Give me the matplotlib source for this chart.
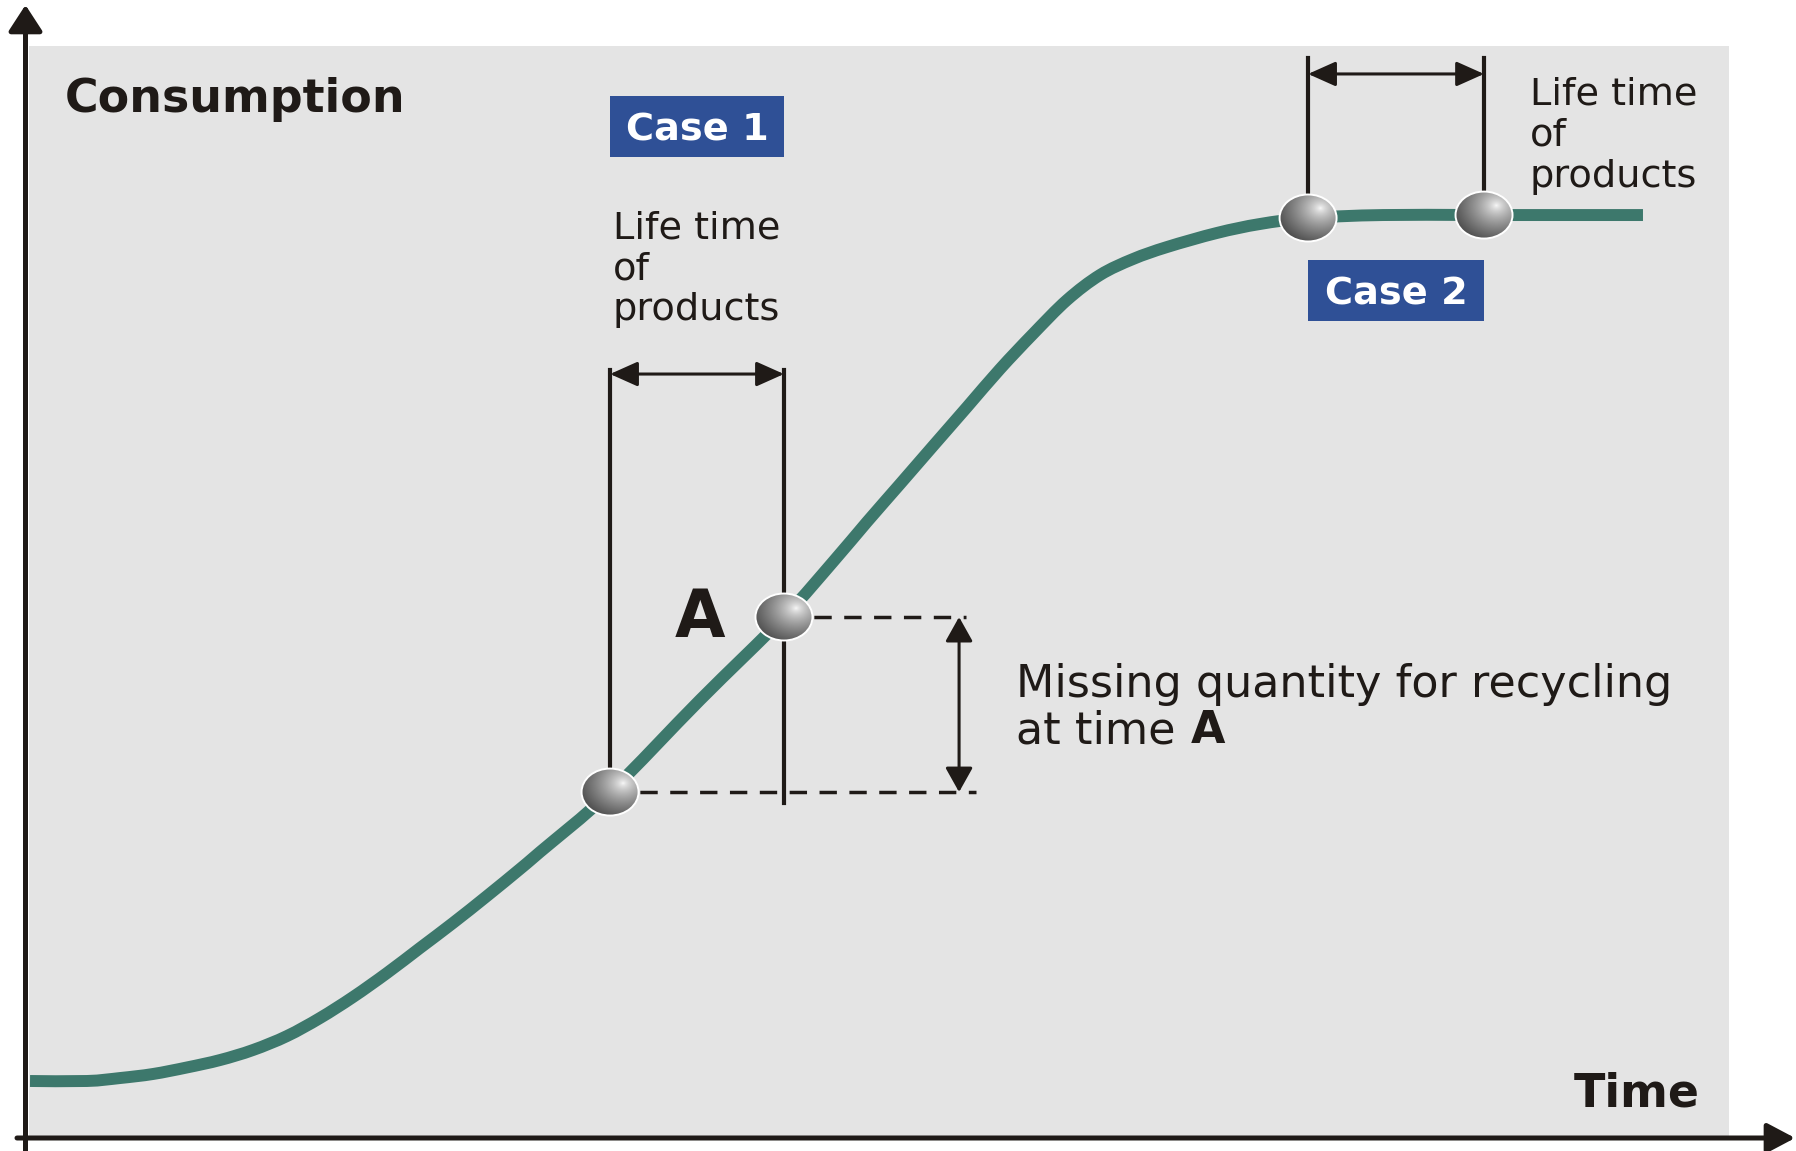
import numpy as np
import matplotlib
matplotlib.use("Agg")
import matplotlib.pyplot as plt
from matplotlib.patches import Ellipse, Rectangle, FancyArrowPatch, PathPatch
from matplotlib.path import Path

# ---------------- data (arbitrary units: time 0-100, consumption 0-100) ----------------
time = [0.06, 3.41, 5.35, 7.29, 9.29, 11.24, 13.18, 15.18, 17.12, 19.06, 21.06,
        23.00, 24.94, 26.94, 28.88, 30.06, 34.18, 39.47, 44.41, 47.29, 49.29,
        51.24, 53.18, 55.18, 57.12, 59.06, 61.06, 63.00, 64.94, 66.94, 69.88,
        72.41, 75.24, 79.65, 85.59, 94.94]
consumption = [5.22, 5.22, 5.49, 5.86, 6.46, 7.14, 8.06, 9.34, 10.99, 12.91, 15.11,
               17.40, 19.69, 22.16, 24.63, 26.19, 31.68, 40.11, 47.71, 52.75, 56.41,
               59.89, 63.37, 66.94, 70.42, 73.63, 76.74, 79.03, 80.49, 81.59, 82.88,
               83.70, 84.25, 84.52, 84.52, 84.52]

case1_t = [34.18, 44.41]   # start of product life / time A
case1_c = [31.68, 47.71]
case2_t = [75.24, 85.59]
case2_c = [84.25, 84.52]

case_labels = ["Case 1", "Case 2"]
life_label = ["Life time", "of", "products"]

# ---------------- style ----------------
DARK = "#1f1a17"
TEAL = "#3d786c"
BLUE = "#2f5096"
BG = "#e4e4e4"

W, H = 1796, 1151
fig = plt.figure(figsize=(W / 100, H / 100), dpi=100)
fig.patch.set_facecolor("white")
ax = fig.add_axes([29 / W, 13 / H, 1700 / W, 1092 / H])
ax.set_facecolor(BG)
for s in ax.spines.values():
    s.set_visible(False)
ax.set_xticks([])
ax.set_yticks([])
ax.set_xlim(0, 100)
ax.set_ylim(0, 100)

px_per_x = 1700 / 100.0
px_per_y = 1092 / 100.0

# ---------------- main curve: smooth (Catmull-Rom -> Bezier) line through the points ----------------
P = np.column_stack([time, consumption])
ext = np.vstack([P[0], P, P[-1]])
verts = [tuple(P[0])]
codes = [Path.MOVETO]
for i in range(len(P) - 1):
    p0, p1, p2, p3 = ext[i], ext[i + 1], ext[i + 2], ext[i + 3]
    c1 = p1 + (p2 - p0) / 6.0
    c2 = p2 - (p3 - p1) / 6.0
    verts += [tuple(c1), tuple(c2), tuple(p2)]
    codes += [Path.CURVE4] * 3
ax.add_patch(PathPatch(Path(verts, codes), facecolor="none", edgecolor=TEAL,
                       lw=8.6, capstyle="butt", joinstyle="round", zorder=3))

# ---------------- case 1 construction ----------------
top1 = 70.33
arrow1_y = 69.96
ax.plot([case1_t[0], case1_t[0]], [top1, case1_c[0]], color=DARK, lw=3.0, zorder=2)
ax.plot([case1_t[1], case1_t[1]], [top1, 30.68], color=DARK, lw=3.0, zorder=2)
ax.annotate("", xy=(case1_t[1], arrow1_y), xytext=(case1_t[0], arrow1_y),
            arrowprops=dict(arrowstyle="<|-|>,head_length=0.85,head_width=0.38",
                            mutation_scale=20, lw=2.2, color=DARK,
                            shrinkA=0, shrinkB=0), zorder=4)

# dashed guide lines
dash = (0, (5.0, 3.6))
ax.plot([case1_t[1], 55.12], [case1_c[1], case1_c[1]], color=DARK, lw=2.5,
        ls=dash, zorder=2)
ax.plot([case1_t[0], 55.71], [case1_c[0], case1_c[0]], color=DARK, lw=2.5,
        ls=dash, zorder=2)
ax.annotate("", xy=(54.71, case1_c[0]), xytext=(54.71, case1_c[1]),
            arrowprops=dict(arrowstyle="<|-|>,head_length=0.75,head_width=0.42",
                            mutation_scale=20, lw=2.2, color=DARK,
                            shrinkA=0, shrinkB=0), zorder=4)

# ---------------- case 2 construction ----------------
top2 = 98.90
arrow2_y = 97.44
for t, c in zip(case2_t, case2_c):
    ax.plot([t, t], [top2, c], color=DARK, lw=3.0, zorder=2)
ax.annotate("", xy=(case2_t[1], arrow2_y), xytext=(case2_t[0], arrow2_y),
            arrowprops=dict(arrowstyle="<|-|>,head_length=0.85,head_width=0.38",
                            mutation_scale=20, lw=2.2, color=DARK,
                            shrinkA=0, shrinkB=0), zorder=4)

# ---------------- spheres ----------------
n = 240
u = np.linspace(-1, 1, n)
U, V = np.meshgrid(u, u)
d = np.sqrt((U - 0.42) ** 2 + (V - 0.40) ** 2)
r = np.clip(d / 1.9, 0, 1)
inten = 0.99 - 0.78 * r ** 0.7
img = np.dstack([inten, inten, inten])

bw = 57 / px_per_x
bh = 47 / px_per_y
for t, c in zip(case1_t + case2_t, case1_c + case2_c):
    im = ax.imshow(img, extent=[t - bw / 2, t + bw / 2, c - bh / 2, c + bh / 2],
                   origin="lower", aspect="auto", interpolation="bilinear", zorder=5)
    clip = Ellipse((t, c), bw, bh, transform=ax.transData, facecolor="none",
                   edgecolor="none")
    ax.add_patch(clip)
    im.set_clip_path(clip)
    ax.add_patch(Ellipse((t, c), bw, bh, facecolor="none", edgecolor="white",
                         lw=1.4, zorder=6))
ax.set_xlim(0, 100)
ax.set_ylim(0, 100)

# ---------------- labels ----------------
box_rows = [(89.84, 95.42), (74.82, 80.40)]
for lab, ts, (y0, y1) in zip(case_labels, [case1_t, case2_t], box_rows):
    ax.add_patch(Rectangle((ts[0], y0), ts[1] - ts[0], y1 - y0, facecolor=BLUE,
                           edgecolor="none", zorder=4))
    ax.text((ts[0] + ts[1]) / 2, (y0 + y1) / 2, lab, color="white",
            fontsize=27.5, fontweight="bold", ha="center", va="center_baseline",
            zorder=5)

for x0, ys in [(34.35, [82.33, 78.66, 74.91]), (88.29, [94.60, 90.93, 87.09])]:
    for s, y in zip(life_label, ys):
        ax.text(x0, y, s, fontsize=27.5, color=DARK, ha="left", va="baseline")

ax.text(2.12, 93.96, "Consumption", fontsize=33, fontweight="bold", color=DARK,
        ha="left", va="baseline")
ax.text(98.29, 2.84, "Time", fontsize=33, fontweight="bold", color=DARK,
        ha="right", va="baseline")
ax.text(38.0, 45.88, "A", fontsize=47, fontweight="bold", color=DARK,
        ha="left", va="baseline")

ax.text(58.06, 40.38, "Missing quantity for recycling", fontsize=32, color=DARK,
        ha="left", va="baseline")
t_at = ax.text(58.06, 36.17, "at time", fontsize=32, color=DARK,
               ha="left", va="baseline")
ax.annotate("A", xy=(1, 0), xycoords=t_at, xytext=(11, 0),
            textcoords="offset points", fontsize=32, fontweight="bold",
            color=DARK, ha="left", va="bottom")

# ---------------- axes arrows ----------------
fig.add_artist(FancyArrowPatch((25.5 / W, 0.0), (25.5 / W, (H - 5) / H),
                               transform=fig.transFigure,
                               arrowstyle="-|>,head_length=0.8,head_width=0.52",
                               mutation_scale=20, lw=3.6, color=DARK,
                               shrinkA=0, shrinkB=0))
fig.add_artist(FancyArrowPatch((17 / W, 13 / H), (0.9995, 13 / H),
                               transform=fig.transFigure,
                               arrowstyle="-|>,head_length=0.85,head_width=0.45",
                               mutation_scale=20, lw=3.6, color=DARK,
                               shrinkA=0, shrinkB=0))

fig.savefig("out.png", dpi=100)
